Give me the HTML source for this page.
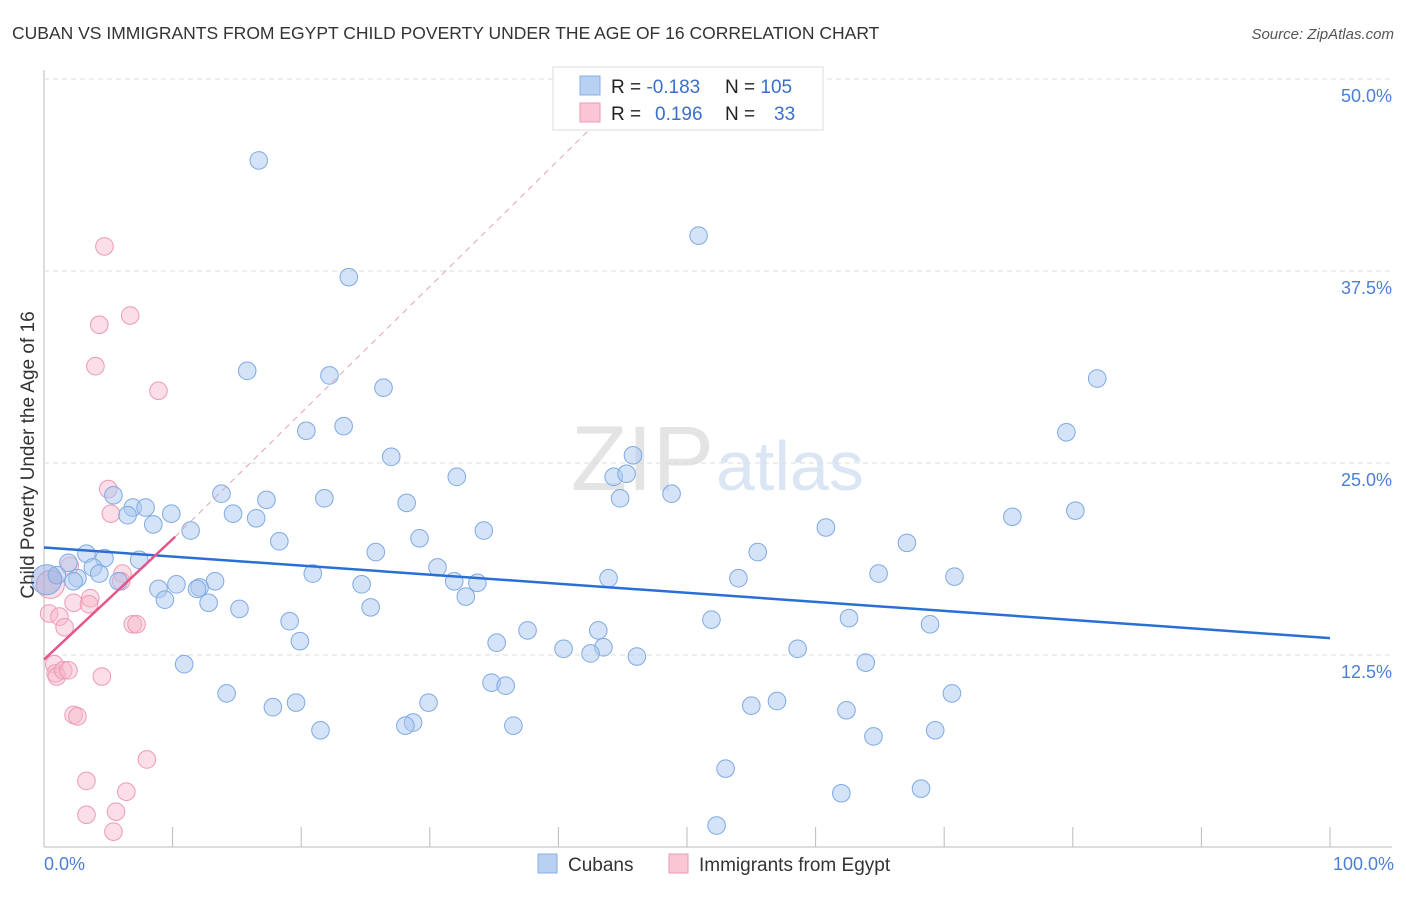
<!DOCTYPE html>
<html><head><meta charset="utf-8">
<style>
body{margin:0;background:#fff;font-family:"Liberation Sans",sans-serif;}
svg text{font-family:"Liberation Sans",sans-serif;}
</style></head><body>
<svg id="chart" width="1406" height="892" xmlns="http://www.w3.org/2000/svg">
<text x="12" y="39" font-size="17.5" fill="#333">CUBAN VS IMMIGRANTS FROM EGYPT CHILD POVERTY UNDER THE AGE OF 16 CORRELATION CHART</text>
<text x="1394" y="39" font-size="15" fill="#555" text-anchor="end" font-style="italic">Source: ZipAtlas.com</text>
<text x="714" y="490" font-size="92" fill="#e4e4e4" text-anchor="end" font-family="Liberation Serif">ZIP</text>
<text x="716" y="490" font-size="70" fill="#dbe6f5">atlas</text>
<g id="grid"></g>
<g id="pts"></g>
<g id="lines"></g>
<text transform="translate(34,455) rotate(-90)" font-size="19" fill="#333" text-anchor="middle">Child Poverty Under the Age of 16</text>
<text x="44" y="870" font-size="18" fill="#4a7fd4">0.0%</text>
<text x="1394" y="870" font-size="18" fill="#4a7fd4" text-anchor="end">100.0%</text>
<g>
<rect x="553" y="67" width="270" height="63" fill="#fff" stroke="#ddd"/>
<rect x="580" y="76" width="20" height="19" fill="#b8d1f3" stroke="#88aee6"/>
<rect x="580" y="103" width="20" height="19" fill="#fac6d5" stroke="#ee9ab3"/>
<text x="611" y="93" font-size="19" fill="#222">R = <tspan fill="#3a6fcc">-0.183</tspan></text>
<text x="725" y="93" font-size="19" fill="#222">N = <tspan fill="#3a6fcc">105</tspan></text>
<text x="611" y="120" font-size="19" fill="#222">R = <tspan fill="#3a6fcc" x="655">0.196</tspan></text>
<text x="725" y="120" font-size="19" fill="#222">N = <tspan fill="#3a6fcc" x="774">33</tspan></text>
</g>
<g>
<rect x="538" y="854" width="19" height="19" fill="#b8d1f3" stroke="#88aee6"/>
<text x="568" y="871" font-size="19" fill="#333">Cubans</text>
<rect x="669" y="854" width="19" height="19" fill="#fac6d5" stroke="#ee9ab3"/>
<text x="699" y="871" font-size="19" fill="#333">Immigrants from Egypt</text>
</g>
</svg>
<script>
const yTicks=[12.5,25,37.5,50];
const yTickLabels=["12.5%","25.0%","37.5%","50.0%"];
const xTicks=[0,10,20,30,40,50,60,70,80,90,100];
const cubanX=[16.7,50.9,23.7,15.8,22.2,26.4,81.9,20.4,23.3,79.5,27.0,45.8,32.1,44.3,45.3,5.4,13.8,48.8,44.8,17.3,21.8,28.2,6.9,7.9,6.5,9.9,14.7,16.5,80.2,75.3,8.5,11.4,34.2,60.8,18.3,29.2,67.1,25.8,55.5,3.3,4.7,7.4,1.9,3.8,30.6,4.3,20.9,1.0,2.6,64.9,70.8,54.0,43.9,2.3,5.8,13.3,10.3,24.7,31.9,33.7,8.9,12.1,11.9,32.8,9.4,12.8,25.4,15.2,19.1,51.9,62.6,68.9,37.6,43.1,19.9,35.2,43.5,40.4,42.5,58.6,46.1,10.9,63.9,34.8,35.9,14.2,70.6,29.9,19.6,57.0,17.8,55.0,62.4,28.7,28.1,36.5,21.5,69.3,64.5,53.0,68.2,62.0,52.3,0.2];
const cubanY=[44.7,39.8,37.1,31.0,30.7,29.9,30.5,27.1,27.4,27.0,25.4,25.5,24.1,24.1,24.3,22.9,23.0,23.0,22.7,22.6,22.7,22.4,22.1,22.1,21.6,21.7,21.7,21.4,21.9,21.5,21.0,20.6,20.6,20.8,19.9,20.1,19.8,19.2,19.2,19.1,18.8,18.7,18.5,18.2,18.2,17.8,17.8,17.7,17.5,17.8,17.6,17.5,17.5,17.3,17.3,17.3,17.1,17.1,17.3,17.2,16.8,16.9,16.8,16.3,16.1,15.9,15.6,15.5,14.7,14.8,14.9,14.5,14.1,14.1,13.4,13.3,13.0,12.9,12.6,12.9,12.4,11.9,12.0,10.7,10.5,10.0,10.0,9.4,9.4,9.5,9.1,9.2,8.9,8.1,7.9,7.9,7.6,7.6,7.2,5.1,3.8,3.5,1.4,17.4];
const egyptX=[4.7,6.7,4.3,4.0,8.9,5.0,5.2,0.5,2.0,6.1,3.6,2.3,3.5,0.4,1.2,1.6,6.9,7.2,0.8,0.9,1.0,1.5,1.9,4.5,2.3,2.6,8.0,3.3,6.4,3.3,5.6,5.4,6.0];
const egyptY=[39.1,34.6,34.0,31.3,29.7,23.3,21.7,17.1,18.3,17.8,16.2,15.9,15.8,15.2,15.0,14.3,14.5,14.5,11.9,11.3,11.1,11.5,11.5,11.1,8.6,8.5,5.7,4.3,3.6,2.1,2.3,1.0,17.3];
const cubanTrend=[[0,19.5],[100,13.6]];
const egyptTrend=[[0,12.2],[10.2,20.2]];
const egyptTrendExt=[[10.2,20.2],[43.5,47.6]];
const X=v=>44+v*12.86, Y=v=>847-v*15.36;
const NS="http://www.w3.org/2000/svg";
function mk(t,a,p){const e=document.createElementNS(NS,t);for(const k in a)e.setAttribute(k,a[k]);p.appendChild(e);return e;}
const grid=document.getElementById('grid');
mk('line',{x1:44,y1:70,x2:44,y2:847,stroke:'#bbb'},grid);
mk('line',{x1:44,y1:847,x2:1392,y2:847,stroke:'#bbb'},grid);
yTicks.forEach((t,i)=>{
 const l=mk('line',{x1:44,y1:Y(t),x2:1392,y2:Y(t),stroke:'#ddd','stroke-dasharray':'5,4'},grid);
 
 
 const tx=mk('text',{x:1392,y:Y(t)+23,'font-size':18,fill:'#4a7fd4','text-anchor':'end'},grid);
 tx.textContent=yTickLabels[i];
 
 
});
xTicks.forEach(t=>{
 const l=mk('line',{x1:X(t),y1:827,x2:X(t),y2:847,stroke:'#bbb'},grid);
 
 
});
const pts=document.getElementById('pts');
egyptX.forEach((x,i)=>{
 const c=mk('circle',{cx:X(x),cy:Y(egyptY[i]),r:i==7?14:8.8,fill:'#f7b6ca','fill-opacity':0.45,stroke:'#ee9ab5','stroke-width':1},pts);
 
 
});
cubanX.forEach((x,i)=>{
 const big=i==cubanX.length-1;
 const c=mk('circle',{cx:X(x),cy:Y(cubanY[i]),r:big?15:8.8,fill:big?'#8fa9e0':'#a9c8f0','fill-opacity':0.5,stroke:'#7eaae4','stroke-width':1},pts);
 
 
});
const ln=document.getElementById('lines');
let l=mk('line',{x1:X(cubanTrend[0][0]),y1:Y(cubanTrend[0][1]),x2:X(cubanTrend[1][0]),y2:Y(cubanTrend[1][1]),stroke:'#2a6fd6','stroke-width':2.5},ln);


l=mk('line',{x1:X(egyptTrendExt[0][0]),y1:Y(egyptTrendExt[0][1]),x2:X(egyptTrendExt[1][0]),y2:Y(egyptTrendExt[1][1]),stroke:'#e8a0b8','stroke-width':1,'stroke-dasharray':'6,5'},ln);


l=mk('line',{x1:X(egyptTrend[0][0]),y1:Y(egyptTrend[0][1]),x2:X(egyptTrend[1][0]),y2:Y(egyptTrend[1][1]),stroke:'#e5558a','stroke-width':2.5},ln);


</script>
</body></html>
